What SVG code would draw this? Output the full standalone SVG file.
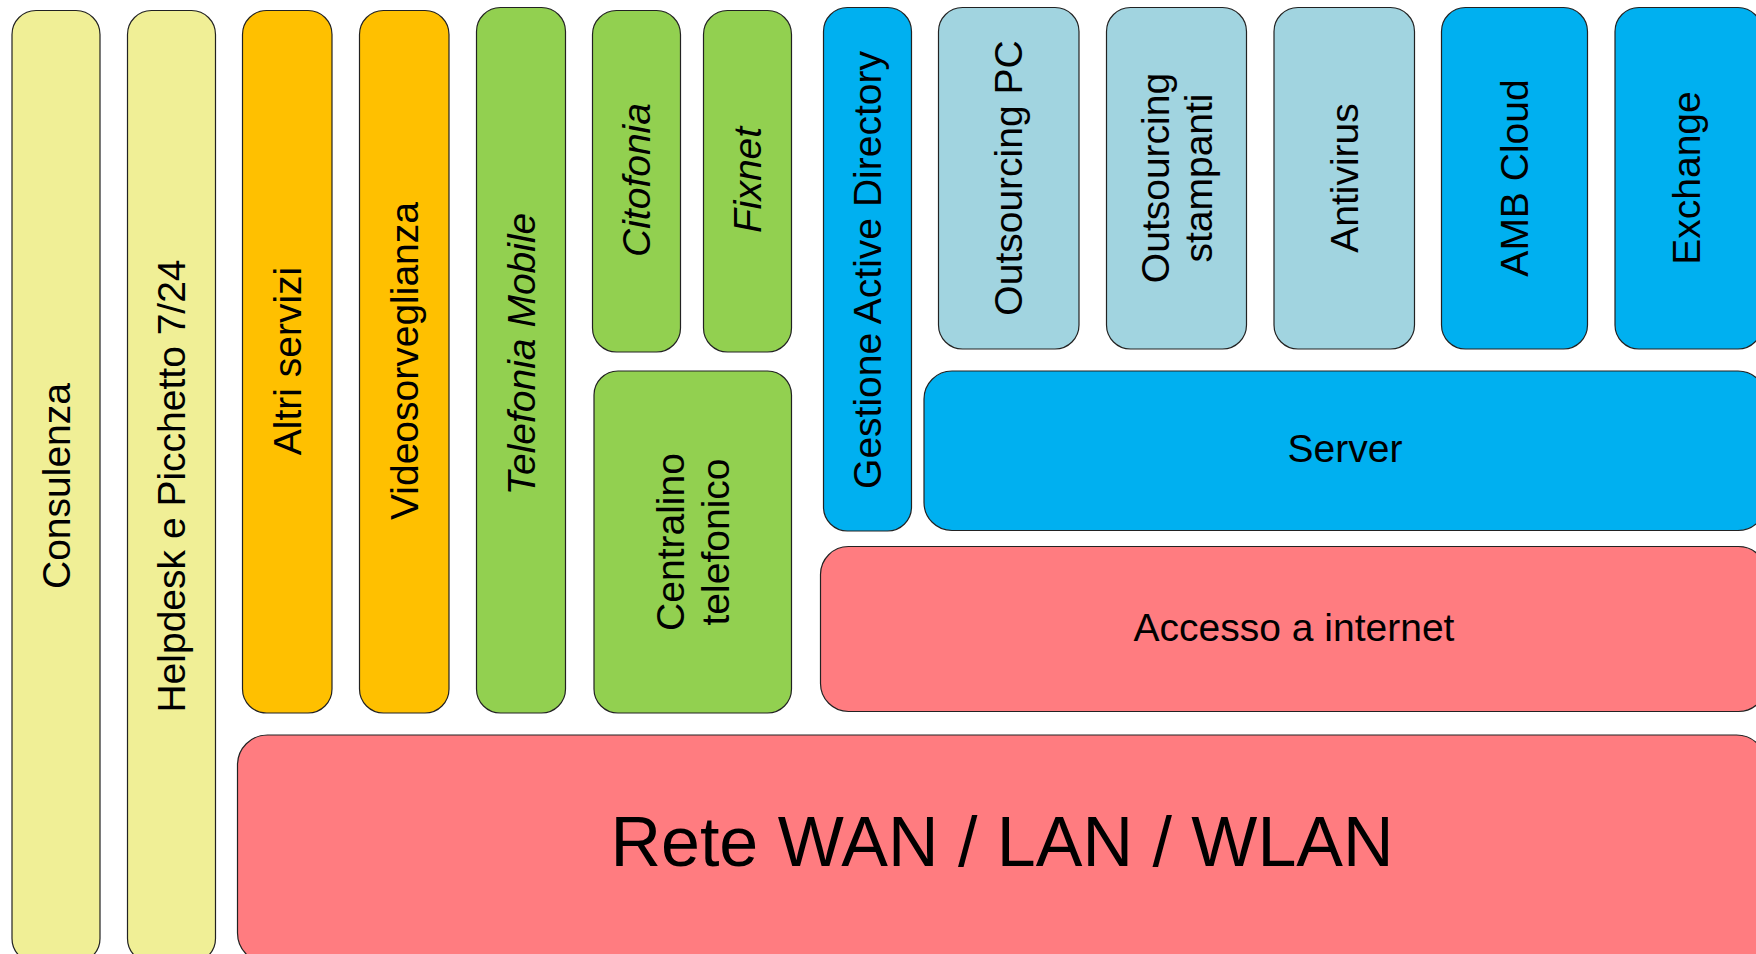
<svg xmlns="http://www.w3.org/2000/svg" width="1756" height="954" viewBox="0 0 1756 954">
<style>
rect{stroke:#222;stroke-width:1.2}
.y{fill:#F0EF96}.o{fill:#FFC000}.g{fill:#92D050}.b{fill:#00B0F0}.lb{fill:#A1D4E0}.r{fill:#FF7C80}
text{font-family:"Liberation Sans",Arial,sans-serif;font-size:39px;fill:#000;text-anchor:middle;dominant-baseline:central}
.i{font-style:italic}
</style>
<rect width="1756" height="954" fill="#fff" style="stroke:none"/>
<g id="consulenza"><rect class="y" x="12" y="10.5" width="88" height="952" rx="24"/><text transform="translate(56,486) rotate(-90)">Consulenza</text></g>
<g id="helpdesk"><rect class="y" x="127.5" y="10.5" width="88" height="952" rx="24"/><text transform="translate(171.5,486) rotate(-90)">Helpdesk e Picchetto 7/24</text></g>
<g id="altri-servizi"><rect class="o" x="242.5" y="10.5" width="89.5" height="702.5" rx="24"/><text transform="translate(287.5,361) rotate(-90)">Altri servizi</text></g>
<g id="videosorveglianza"><rect class="o" x="359.5" y="10.5" width="89.5" height="702.5" rx="24"/><text transform="translate(404.5,361) rotate(-90)">Videosorveglianza</text></g>
<g id="telefonia-mobile"><rect class="g" x="476.5" y="7.5" width="89" height="705.5" rx="24"/><text class="i" transform="translate(521,354) rotate(-90)">Telefonia Mobile</text></g>
<g id="citofonia"><rect class="g" x="592.5" y="10.5" width="88" height="341.5" rx="24"/><text class="i" transform="translate(636.5,180) rotate(-90)">Citofonia</text></g>
<g id="fixnet"><rect class="g" x="703.5" y="10.5" width="88" height="341.5" rx="24"/><text class="i" transform="translate(747.5,180) rotate(-90)">Fixnet</text></g>
<g id="centralino"><rect class="g" x="594" y="371" width="197.5" height="342" rx="24"/><text transform="translate(692.7,542) rotate(-90)"><tspan x="0" y="-22.5">Centralino</tspan><tspan x="0" y="22.5">telefonico</tspan></text></g>
<g id="active-directory"><rect class="b" x="823.5" y="7.5" width="88" height="523.5" rx="24"/><text transform="translate(867.5,270) rotate(-90)">Gestione Active Directory</text></g>
<g id="outsourcing-pc"><rect class="lb" x="938.5" y="7.5" width="140.5" height="341.5" rx="24"/><text transform="translate(1008.8,178) rotate(-90)">Outsourcing PC</text></g>
<g id="outsourcing-stampanti"><rect class="lb" x="1106.5" y="7.5" width="140" height="341.5" rx="24"/><text transform="translate(1176.5,178) rotate(-90)"><tspan x="0" y="-21.5">Outsourcing</tspan><tspan x="0" y="21.5">stampanti</tspan></text></g>
<g id="antivirus"><rect class="lb" x="1274" y="7.5" width="140.5" height="341.5" rx="24"/><text transform="translate(1344,178) rotate(-90)">Antivirus</text></g>
<g id="amb-cloud"><rect class="b" x="1441.5" y="7.5" width="146" height="341.5" rx="24"/><text transform="translate(1514.5,178) rotate(-90)">AMB Cloud</text></g>
<g id="exchange"><rect class="b" x="1615" y="7.5" width="147" height="341.5" rx="24"/><text transform="translate(1686,178) rotate(-90)">Exchange</text></g>
<g id="server"><rect class="b" x="924" y="371" width="842" height="159.5" rx="28"/><text x="1345" y="448">Server</text></g>
<g id="accesso-internet"><rect class="r" x="820.5" y="546.5" width="946" height="165" rx="28"/><text x="1294" y="627">Accesso a internet</text></g>
<g id="rete"><rect class="r" x="237.5" y="735" width="1529" height="228" rx="30"/><text x="1002" y="842" style="font-size:70px">Rete WAN / LAN / WLAN</text></g>
<g id="connectors"></g>
</svg>
